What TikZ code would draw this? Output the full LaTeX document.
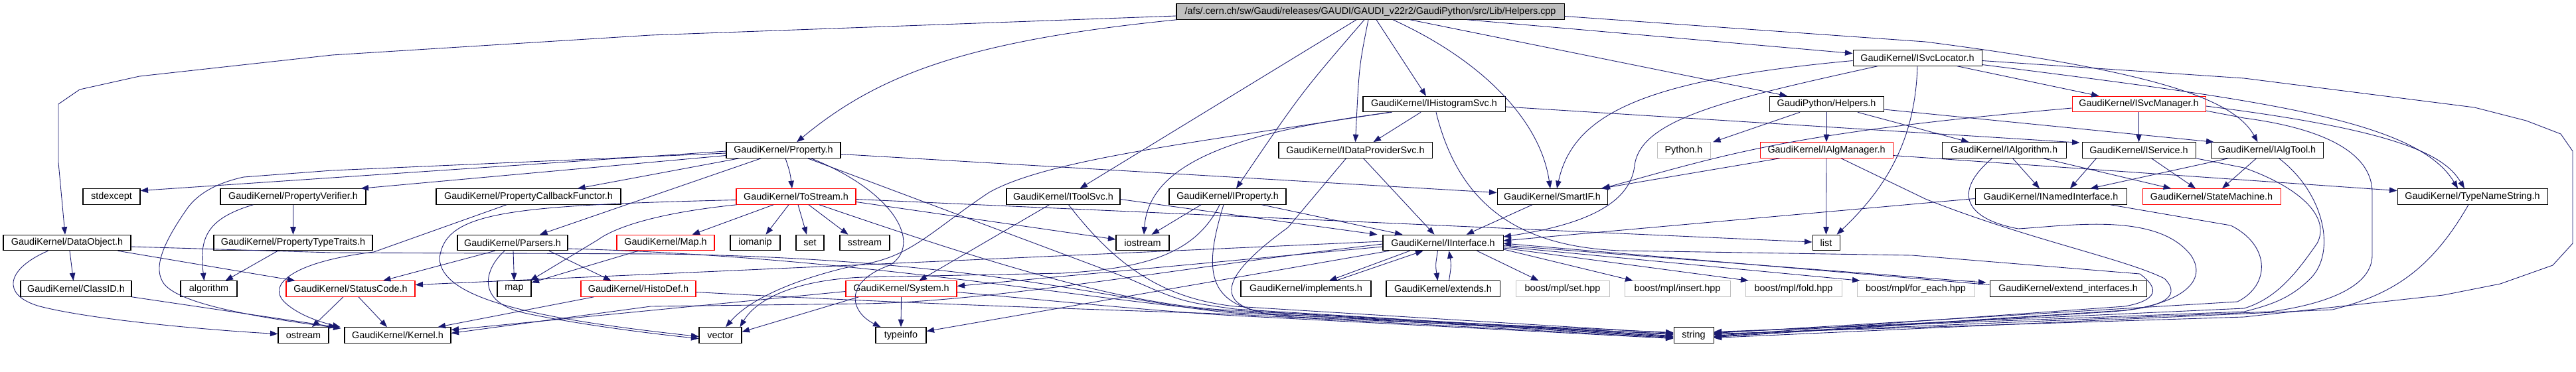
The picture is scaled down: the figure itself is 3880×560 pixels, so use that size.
\documentclass[tikz,border=0pt]{standalone}
\usepackage{fontspec}
\setmainfont{Liberation Sans}
\usetikzlibrary{arrows.meta,calc}
\definecolor{eb}{RGB}{25,25,112}
\definecolor{gb}{RGB}{191,191,191}
\newcommand\nd[6]{\node[#5, minimum width={(#3-#2)*0.2mm}] (#1) at ({(#2+#3)/2},#4) {#6};}
\begin{document}
\begin{tikzpicture}[x=0.2mm,y=-0.2mm,
  bx/.style={draw=black,line width=0.6pt,inner sep=0pt,minimum height=4.7mm,font=\fontsize{8.2}{9}\selectfont},
  bb/.style={bx},
  br/.style={bx,draw=red},
  bg/.style={bx,draw=gb},
  broot/.style={bx,fill=gb},
  e/.style={draw=eb,line width=0.5pt,-{Triangle[length=2.3mm,width=1.7mm]}}]
\useasboundingbox (0,0) rectangle (3880,560);
% row 0
\nd{root}{1772}{2356}{17.5}{broot}{/afs/.cern.ch/sw/Gaudi/releases/GAUDI/GAUDI\_v22r2/GaudiPython/src/Lib/Helpers.cpp}
% row 1
\nd{ISvcLocator}{2791}{2985}{87.5}{bb}{GaudiKernel/ISvcLocator.h}
% row 2
\nd{IHistogramSvc}{2053}{2267}{157}{bb}{GaudiKernel/IHistogramSvc.h}
\nd{Helpers}{2665}{2837}{157}{bb}{GaudiPython/Helpers.h}
\nd{ISvcManager}{3121}{3322}{157}{br}{GaudiKernel/ISvcManager.h}
% row 3
\nd{Property}{1094}{1266}{226.5}{bb}{GaudiKernel/Property.h}
\nd{IDataProviderSvc}{1926}{2157}{226.5}{bb}{GaudiKernel/IDataProviderSvc.h}
\nd{Python}{2496}{2576}{226.5}{bg}{Python.h}
\nd{IAlgManager}{2651}{2851}{226.5}{br}{GaudiKernel/IAlgManager.h}
\nd{IAlgorithm}{2925}{3112}{226.5}{bb}{GaudiKernel/IAlgorithm.h}
\nd{IService}{3136}{3307}{226.5}{bb}{GaudiKernel/IService.h}
\nd{IAlgTool}{3330}{3499}{226.5}{bb}{GaudiKernel/IAlgTool.h}
% row 4
\nd{stdexcept}{125}{211}{296.5}{bb}{stdexcept}
\nd{PropertyVerifier}{332}{551}{296.5}{bb}{GaudiKernel/PropertyVerifier.h}
\nd{PCF}{657}{935}{296.5}{bb}{GaudiKernel/PropertyCallbackFunctor.h}
\nd{ToStream}{1109}{1289}{296.5}{br}{GaudiKernel/ToStream.h}
\nd{IToolSvc}{1516}{1687}{296.5}{bb}{GaudiKernel/IToolSvc.h}
\nd{IProperty}{1761}{1937}{296.5}{bb}{GaudiKernel/IProperty.h}
\nd{SmartIF}{2255}{2421}{296.5}{bb}{GaudiKernel/SmartIF.h}
\nd{INamedInterface}{2975}{3203}{296.5}{bb}{GaudiKernel/INamedInterface.h}
\nd{StateMachine}{3227}{3435}{296.5}{br}{GaudiKernel/StateMachine.h}
\nd{TypeNameString}{3611}{3837}{296.5}{bb}{GaudiKernel/TypeNameString.h}
% row 5
\nd{DataObject}{5}{197}{366}{bb}{GaudiKernel/DataObject.h}
\nd{PTT}{322}{561}{366}{bb}{GaudiKernel/PropertyTypeTraits.h}
\nd{Parsers}{689}{855}{366}{bb}{GaudiKernel/Parsers.h}
\nd{Map}{929}{1076}{366}{br}{GaudiKernel/Map.h}
\nd{iomanip}{1100}{1175}{366}{bb}{iomanip}
\nd{set}{1199}{1241}{366}{bb}{set}
\nd{sstream}{1265}{1340}{366}{bb}{sstream}
\nd{iostream}{1681}{1761}{366}{bb}{iostream}
\nd{IInterface}{2083}{2264}{366}{bb}{GaudiKernel/IInterface.h}
\nd{list}{2730}{2771}{366}{bb}{list}
% row 6
\nd{ClassID}{31}{198}{435.5}{bb}{GaudiKernel/ClassID.h}
\nd{algorithm}{272}{357}{435.5}{bb}{algorithm}
\nd{StatusCode}{431}{625}{435.5}{br}{GaudiKernel/StatusCode.h}
\nd{map}{749}{800}{435.5}{bb}{map}
\nd{HistoDef}{875}{1048}{435.5}{br}{GaudiKernel/HistoDef.h}
\nd{System}{1274}{1441}{435.5}{br}{GaudiKernel/System.h}
\nd{implements}{1869}{2065}{435.5}{bb}{GaudiKernel/implements.h}
\nd{extends}{2088}{2259}{435.5}{bb}{GaudiKernel/extends.h}
\nd{mplset}{2283}{2424}{435.5}{bg}{boost/mpl/set.hpp}
\nd{mplinsert}{2447}{2606}{435.5}{bg}{boost/mpl/insert.hpp}
\nd{mplfold}{2629}{2774}{435.5}{bg}{boost/mpl/fold.hpp}
\nd{mplforeach}{2797}{2974}{435.5}{bg}{boost/mpl/for\_each.hpp}
\nd{extendif}{2997}{3233}{435.5}{bb}{GaudiKernel/extend\_interfaces.h}
% row 7
\nd{ostream}{419}{495}{505.5}{bb}{ostream}
\nd{Kernel}{519}{679}{505.5}{bb}{GaudiKernel/Kernel.h}
\nd{vector}{1053}{1117}{505.5}{bb}{vector}
\nd{typeinfo}{1319}{1395}{505.5}{bb}{typeinfo}
\nd{string}{2521}{2581}{505.5}{bb}{string}

% ---- root
\draw[e] ($(root.west)+(0,6.5)$) -- (980,53) -- (500,83) -- (210,115) -- (120,135) -- (88,157) -- (88,245) -- ($(DataObject.north)+(-3,0)$);
\draw[e] ($(root.south west)+(1,0)$) .. controls (1450,62) and (1320,115) .. ($(Property.north)+(20,0)$);
\draw[e] ($(root.south)+(-21,0)$) -- ($(IToolSvc.north)+(25,0)$);
\draw[e] ($(root.south)+(-9,0)$) .. controls (1960,140) .. ($(IProperty.north)+(13,0)$);
\draw[e] ($(root.south)+(-3,0)$) .. controls (2047,100) .. (IDataProviderSvc.north);
\draw[e] ($(root.south)+(9,0)$) -- ($(IHistogramSvc.north)+(-12,0)$);
\draw[e] ($(root.south)+(34,0)$) .. controls (2230,90) and (2320,180) .. ($(SmartIF.north)+(-3,0)$);
\draw[e] ($(root.south)+(60,0)$) -- ($(Helpers.north)+(-59,0)$);
\draw[e] ($(root.south)+(146,0)$) -- ($(ISvcLocator.west)+(0,-7)$);
\draw[e] ($(root.east)+(0,7)$) -- (2900,63) .. controls (3250,108) and (3365,150) .. ($(IAlgTool.north)+(-14,0)$);
% ---- ISvcLocator
\draw[e] ($(ISvcLocator.south)+(60,0)$) -- ($(ISvcManager.north)+(-60,0)$);
\draw[e] (ISvcLocator.south) .. controls (2885,200) and (2850,275) .. ($(list.north)+(16,0)$);
\draw[e] ($(ISvcLocator.west)+(0,4)$) .. controls (2480,120) and (2370,170) .. ($(SmartIF.north)+(7,0)$);
\draw[e] ($(ISvcLocator.south)+(-60,0)$) .. controls (2600,150) and (2470,180) .. (2462,250) .. controls (2455,310) and (2380,340) .. ($(IInterface.east)+(0,-9)$);
\draw[e] ($(ISvcLocator.east)+(0,10)$) .. controls (3400,150) and (3640,180) .. ($(TypeNameString.north)+(-22,0)$);
\draw[e] ($(ISvcLocator.east)+(0,4)$) -- (3380,118) -- (3727,162) -- (3805,182) -- (3857,202) -- (3875,228) -- (3875,367) -- (3845,400) -- (3766,428) -- (3680,445) -- (3380,478) -- ($(string.east)+(0,-2)$);
% ---- ISvcManager
\draw[e] (ISvcManager.south) -- (IService.north);
\draw[e] ($(ISvcManager.west)+(0,6)$) .. controls (2700,200) and (2610,230) .. ($(SmartIF.north east)+(-8,0)$);
\draw[e] ($(ISvcManager.east)+(0,3)$) .. controls (3600,195) and (3680,230) .. ($(TypeNameString.north)+(-12,0)$);
\draw[e] ($(ISvcManager.east)+(0,10)$) -- (3380,178) .. controls (3510,195) and (3573,235) .. (3573,290) -- (3573,385) .. controls (3573,440) and (3480,462) .. (3420,470) -- ($(string.east)+(0,-1)$);
% ---- Helpers
\draw[e] ($(Helpers.south)+(-40,0)$) -- ($(Python.north)+(44,0)$);
\draw[e] (Helpers.south) -- (IAlgManager.north);
\draw[e] ($(Helpers.south)+(47,0)$) -- ($(IAlgorithm.north)+(-53,0)$);
\draw[e] ($(Helpers.east)+(0,8)$) -- ($(IAlgTool.north west)+(5,0)$);
% ---- IHistogramSvc
\draw[e] ($(IHistogramSvc.south)+(-20,0)$) -- ($(IDataProviderSvc.north)+(27,0)$);
\draw[e] ($(IHistogramSvc.south west)+(44,0)$) .. controls (1850,200) and (1730,250) .. ($(iostream.north)+(2,0)$);
\draw[e] ($(IHistogramSvc.south west)+(40,0)$) .. controls (1800,215) and (1580,240) .. (1490,290) .. controls (1400,350) and (1370,390) .. (1290,400) .. controls (1200,420) and (1130,450) .. ($(vector.north)+(8,0)$);
\draw[e] ($(IHistogramSvc.south)+(3,0)$) .. controls (2200,320) and (2300,372) .. (2440,378) -- (2880,385) -- (3223,413) .. controls (3260,440) and (3240,455) .. (3200,462) -- ($(string.east)+(0,1)$);
\draw[e] ($(IHistogramSvc.east)+(0,4)$) -- ($(IService.north west)+(-3,1)$);
% ---- IDataProviderSvc
\draw[e] ($(IDataProviderSvc.south)+(12,0)$) -- ($(IInterface.north)+(-13,0)$);
\draw[e] ($(IDataProviderSvc.south)+(-14,0)$) -- (1940,343) .. controls (1820,430) and (1830,470) .. (1950,478) -- ($(string.west)+(0,-2)$);
% ---- SmartIF
\draw[e] ($(SmartIF.south)+(-30,0)$) -- ($(IInterface.north)+(35,0)$);
% ---- IToolSvc
\draw[e] ($(IToolSvc.east)+(0,4)$) -- ($(IInterface.north west)+(-8,0)$);
\draw[e] ($(IToolSvc.south)+(-21,0)$) -- ($(System.north)+(27,0)$);
\draw[e] ($(IToolSvc.south)+(8,0)$) .. controls (1680,400) and (1750,450) .. (1860,462) -- ($(string.west)+(0,-3)$);
% ---- IProperty
\draw[e] ($(IProperty.south)+(-40,0)$) -- ($(iostream.north east)+(-27,0)$);
\draw[e] ($(IProperty.south east)+(-37,0)$) -- ($(IInterface.north)+(-61,0)$);
\draw[e] ($(IProperty.south)+(-6,0)$) .. controls (1815,400) and (1815,455) .. (1900,470) -- ($(string.west)+(0,-1)$);
\draw[e] ($(IProperty.south)+(-12,0)$) .. controls (1800,385) and (1720,405) .. (1600,412) -- (1300,418) .. controls (1200,422) and (1140,450) .. ($(vector.north east)+(-3,0)$);
% ---- Property
\draw[e] ($(Property.west)+(0,1.5)$) -- ($(stdexcept.east)+(0,-9)$);
\draw[e] ($(Property.west)+(0,8)$) -- ($(PropertyVerifier.north east)+(-8,0)$);
\draw[e] ($(Property.south west)+(20,0)$) -- ($(PCF.north)+(74,0)$);
\draw[e] ($(Property.south)+(3,0)$) .. controls (1190,260) .. ($(ToStream.north)+(-6,0)$);
\draw[e] ($(Property.south west)+(53,0)$) -- ($(Parsers.north)+(41,0)$);
\draw[e] ($(Property.east)+(0,6)$) -- ($(SmartIF.west)+(0,-6)$);
\draw[e] ($(Property.west)+(0,4.5)$) -- (500,257) -- (367,267) .. controls (330,275) and (300,290) .. (283,313) .. controls (250,360) and (230,400) .. (245,425) .. controls (265,460) and (400,480) .. ($(Kernel.north west)+(-5,2)$);
\draw[e] ($(Property.south east)+(-45,0)$) .. controls (1350,290) and (1390,370) .. (1340,400) .. controls (1270,425) and (1280,470) .. ($(typeinfo.north west)+(8,0)$);
\draw[e] ($(Property.south east)+(-50,0)$) -- (1700,420) .. controls (1780,455) .. (1860,466) -- ($(string.west)+(0,1)$);
% ---- ToStream
\draw[e] ($(ToStream.south)+(-34,0)$) -- ($(Map.north)+(40,0)$);
\draw[e] ($(ToStream.south)+(-11,0)$) -- ($(iomanip.north)+(16,0)$);
\draw[e] ($(ToStream.south)+(3,0)$) -- ($(set.north)+(-5,0)$);
\draw[e] ($(ToStream.south)+(19,0)$) -- ($(sstream.north)+(-25,0)$);
\draw[e] ($(ToStream.east)+(0,8)$) -- ($(iostream.west)+(0,-5)$);
\draw[e] ($(ToStream.east)+(0,4)$) -- ($(list.west)+(0,-1)$);
\draw[e] ($(ToStream.south west)+(1,0)$) .. controls (1000,320) and (930,340) .. (900,362) -- ($(map.north east)+(-2,0)$);
\draw[e] ($(ToStream.west)+(0,5)$) .. controls (760,310) and (670,320) .. (662,390) .. controls (665,450) and (800,480) .. ($(vector.west)+(0,2)$);
\draw[e] ($(ToStream.south)+(35,0)$) .. controls (1500,400) and (1700,462) .. (1860,468) -- ($(string.west)+(0,2)$);
% ---- Parsers
\draw[e] ($(Parsers.south west)+(57,0)$) -- ($(StatusCode.north)+(49,0)$);
\draw[e] ($(Parsers.south)+(1,0)$) -- (map.north);
\draw[e] ($(Parsers.south)+(55,0)$) -- ($(HistoDef.north)+(-41,0)$);
\draw[e] ($(Parsers.south)+(-12,0)$) .. controls (730,405) and (715,455) .. (790,472) .. controls (850,485) and (950,500) .. ($(vector.west)+(0,5)$);
\draw[e] ($(Parsers.east)+(0,9)$) .. controls (1300,387) and (1650,455) .. (1860,470) -- ($(string.west)+(0,3)$);
% ---- Map
\draw[e] ($(Map.south west)+(33,0)$) -- ($(map.north east)+(0,3)$);
% ---- HistoDef
\draw[e] ($(HistoDef.south west)+(20,0)$) -- ($(Kernel.north east)+(-20,0)$);
\draw[e] ($(HistoDef.east)+(0,5)$) .. controls (1400,460) and (1700,468) .. (1860,474) -- ($(string.west)+(0,4)$);
% ---- System
\draw[e] (System.south) -- (typeinfo.north);
\draw[e] ($(System.south west)+(20,0)$) -- ($(vector.east)+(0,-5)$);
\draw[e] ($(System.west)+(0,4)$) -- ($(Kernel.east)+(0,-8)$);
\draw[e] ($(System.east)+(0,5)$) .. controls (1600,455) and (1750,470) .. (1860,476) -- ($(string.west)+(0,5)$);
% ---- IInterface
\draw[e] ($(IInterface.south)+(-50,0)$) -- ($(implements.north)+(35,0)$);
\draw[e] ($(implements.north)+(45,0)$) -- ($(IInterface.south)+(-30,0)$);
\draw[e] ($(IInterface.south)+(-8,0)$) .. controls (2162,400) .. ($(extends.north)+(-8,0)$);
\draw[e] ($(extends.north)+(9,0)$) .. controls (2186,400) .. ($(IInterface.south)+(9,0)$);
\draw[e] ($(IInterface.south east)+(-40,0)$) -- ($(mplset.north)+(-36,0)$);
\draw[e] ($(IInterface.east)+(0,10)$) -- ($(mplinsert.north west)+(13,0)$);
\draw[e] ($(IInterface.east)+(0,8)$) -- ($(mplfold.north west)+(5,0)$);
\draw[e] ($(IInterface.east)+(0,6)$) -- ($(mplforeach.north west)+(5,0)$);
\draw[e] ($(IInterface.east)+(0,4)$) -- ($(extendif.north west)+(-5,3)$);
\draw[e] ($(extendif.west)+(0,-6)$) -- ($(IInterface.east)+(0,1)$);
\draw[e] ($(IInterface.west)+(0,-2)$) -- ($(StatusCode.east)+(0,-6)$);
\draw[e] ($(IInterface.west)+(0,2)$) .. controls (1800,400) and (1500,455) .. (1300,458) -- (980,462) -- ($(Kernel.east)+(0,-3)$);
\draw[e] ($(IInterface.west)+(0,6)$) -- ($(System.east)+(0,-4)$);
\draw[e] ($(IInterface.south west)+(10,0)$) -- ($(typeinfo.east)+(0,-6)$);
% ---- INamedInterface
\draw[e] ($(INamedInterface.west)+(0,3)$) -- ($(IInterface.east)+(0,-3)$);
\draw[e] ($(INamedInterface.south east)+(-25,0)$) -- (3360,340) .. controls (3420,370) and (3420,430) .. (3370,455) -- ($(string.east)+(0,-3)$);
% ---- IAlgorithm
\draw[e] ($(IAlgorithm.south)+(13,0)$) -- ($(INamedInterface.north)+(-17,0)$);
\draw[e] ($(IAlgorithm.south east)+(-35,0)$) -- ($(StateMachine.north)+(-61,0)$);
\draw[e] ($(IAlgorithm.south)+(-18,0)$) .. controls (2940,290) and (2960,330) .. (3040,345) .. controls (3120,340) and (3250,320) .. (3300,385) .. controls (3330,430) and (3270,460) .. (3200,468) -- ($(string.east)+(0,2)$);
% ---- IService
\draw[e] ($(IService.south)+(-64,0)$) -- ($(INamedInterface.north)+(29,0)$);
\draw[e] ($(IService.south)+(19,0)$) -- ($(StateMachine.north)+(-24,0)$);
\draw[e] (IService.south east) -- (3380,253) .. controls (3470,285) and (3510,330) .. (3490,367) .. controls (3460,410) and (3430,450) .. (3380,465) -- ($(string.east)+(0,-4)$);
% ---- IAlgTool
\draw[e] ($(IAlgTool.south west)+(27,0)$) -- ($(INamedInterface.north east)+(-55,0)$);
\draw[e] ($(IAlgTool.south)+(-16,0)$) -- ($(StateMachine.north)+(16,0)$);
\draw[e] ($(IAlgTool.south)+(18,0)$) .. controls (3500,290) and (3520,380) .. (3480,420) .. controls (3450,450) and (3420,460) .. (3380,470) -- ($(string.east)+(0,-5)$);
% ---- IAlgManager
\draw[e] (IAlgManager.south) -- (list.north);
\draw[e] ($(IAlgManager.south west)+(30,0)$) -- ($(SmartIF.north east)+(-10,0)$);
\draw[e] ($(IAlgManager.east)+(0,8)$) -- ($(TypeNameString.west)+(0,-9)$);
\draw[e] ($(IAlgManager.south)+(22,0)$) -- (2900,300) .. controls (3050,360) and (3200,390) .. (3260,420) .. controls (3290,450) and (3250,465) .. (3180,470) -- ($(string.east)+(0,3)$);
% ---- TypeNameString
\draw[e] ($(TypeNameString.south)+(-6,0)$) .. controls (3660,410) and (3600,445) .. (3513,467) -- ($(string.east)+(0,4)$);
% ---- DataObject
\draw[e] ($(DataObject.south)+(4,0)$) -- ($(ClassID.north)+(-4,0)$);
\draw[e] ($(DataObject.south east)+(-20,0)$) -- ($(StatusCode.north west)+(14,0)$);
\draw[e] ($(DataObject.south west)+(68,0)$) .. controls (10,405) and (0,445) .. (60,462) .. controls (150,485) and (350,500) .. ($(ostream.west)+(0,-2)$);
\draw[e] ($(DataObject.east)+(0,6)$) -- (500,381) -- (1000,383) .. controls (1500,391) and (1700,460) .. (1860,472) -- ($(string.west)+(0,-4)$);
% ---- ClassID / StatusCode
\draw[e] (ClassID.south east) -- ($(Kernel.north west)+(-12,0)$);
\draw[e] ($(StatusCode.south)+(-11,0)$) -- ($(ostream.north)+(13,0)$);
\draw[e] ($(StatusCode.south)+(12,0)$) -- ($(Kernel.north)+(-16,0)$);
% ---- PropertyVerifier / Traits / Callback
\draw[e] (PropertyVerifier.south) -- (PTT.north);
\draw[e] ($(PropertyVerifier.south west)+(50,0)$) .. controls (310,330) and (300,360) .. ($(algorithm.north)+(-7,0)$);
\draw[e] ($(PTT.south)+(-23,0)$) -- ($(algorithm.north east)+(-18,0)$);
\draw[e] ($(PCF.south)+(-33,0)$) -- (563,380) .. controls (440,395) and (400,430) .. (430,457) .. controls (450,475) and (480,485) .. ($(Kernel.north west)+(-6,0)$);
\end{tikzpicture}
\end{document}
